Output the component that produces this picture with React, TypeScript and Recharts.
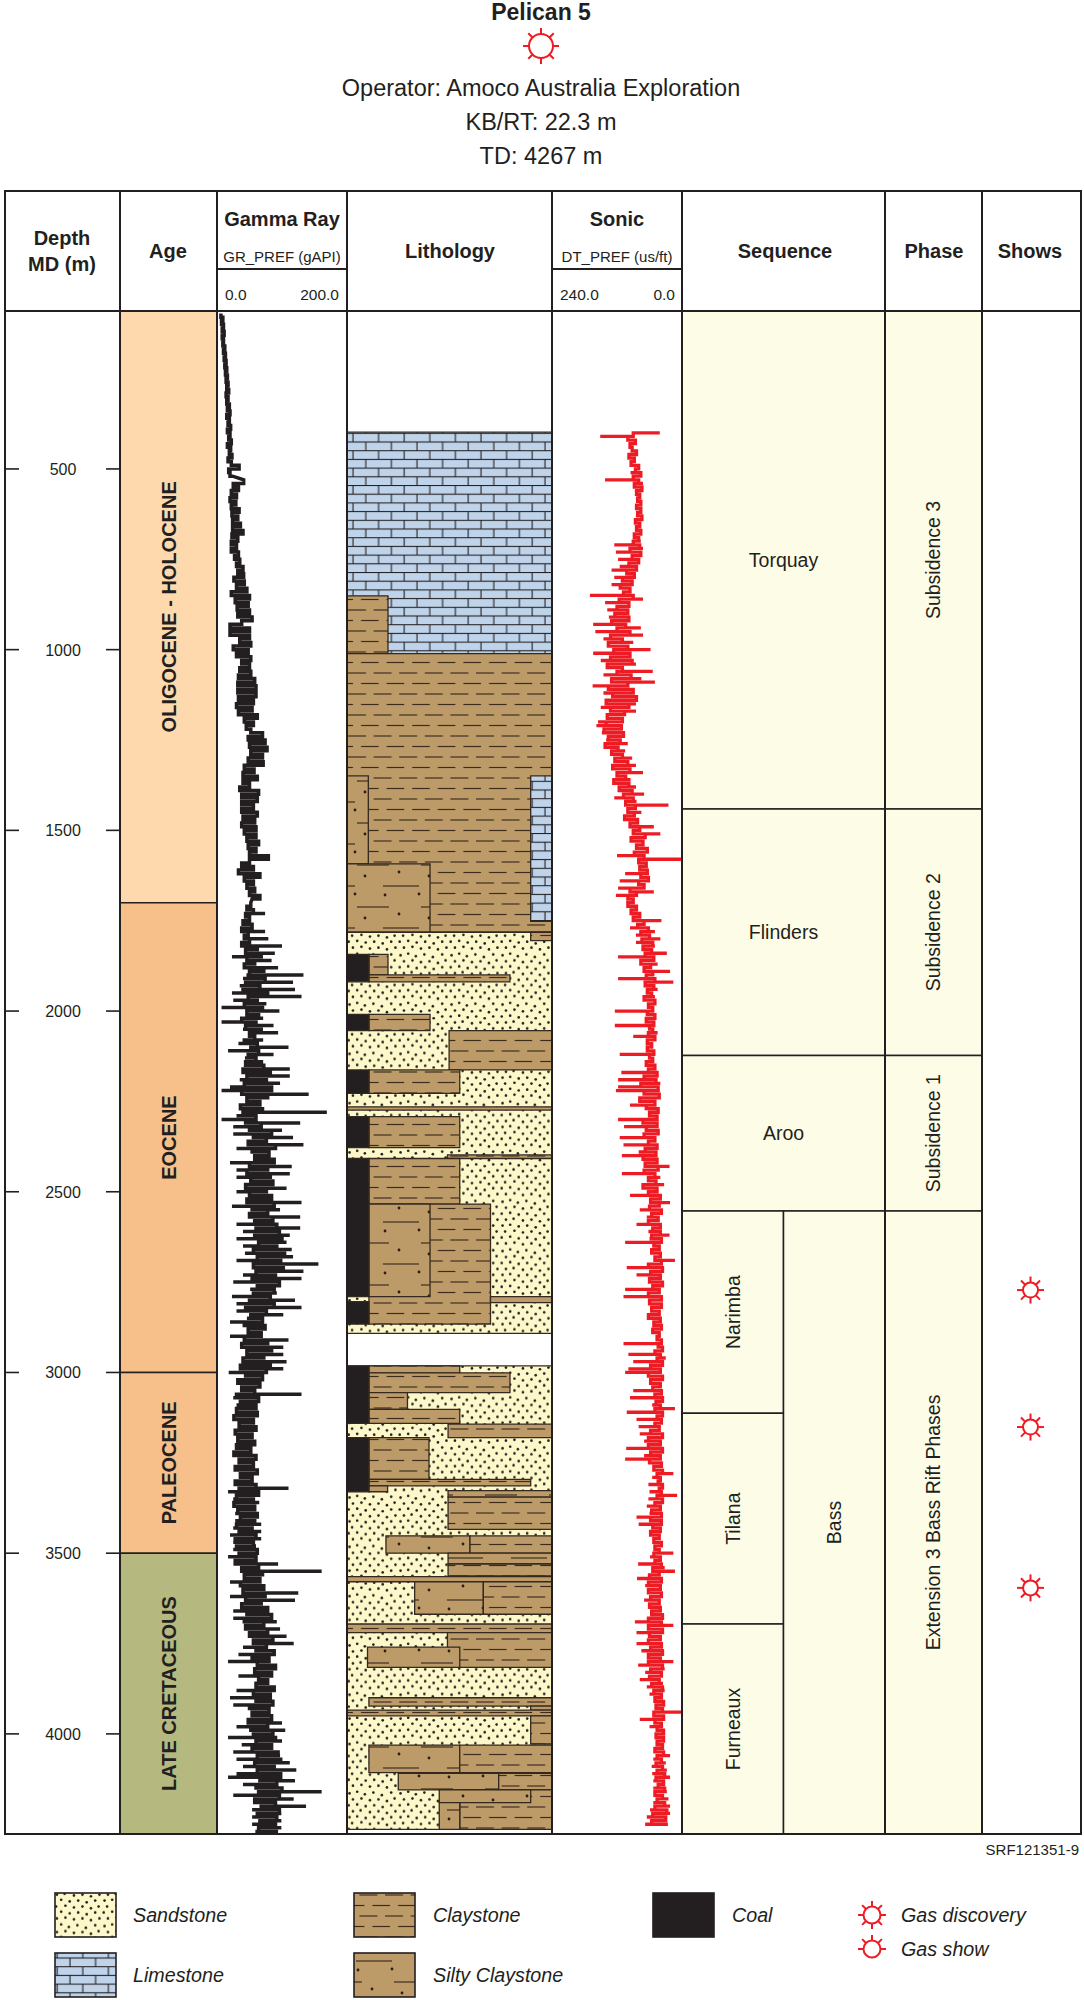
import { ComposedChart, Line, XAxis, YAxis, ReferenceArea, Scatter } from 'recharts'

const FONT = '"Liberation Sans", Arial, sans-serif'
const INK = '#231f20'
const RED = '#ed1c24'
const PALE = '#fdfce6'
const DEPTH_DOMAIN = [63, 4277]
const DEPTH_TICKS = [500, 1000, 1500, 2000, 2500, 3000, 3500, 4000]

// Column edges on the page
const TOP = 311
const BOTTOM = 1834
const TRACK_H = BOTTOM - TOP

// Gamma ray (gAPI)
const GR_TOP_START = 70
const grTop = [
  6, 9, 7, 10, 8, 11, 8, 10, 9, 12, 10, 13, 11, 14, 12, 15, 13, 16, 14, 17, 15, 18, 14,
  17, 15, 19, 16, 20, 15, 19, 17, 21, 16, 20, 18, 22, 16, 21, 19, 23, 17, 22, 34, 18, 20, 24,
]

const GR_MID_START = 530
const grMid = [
  41, 25, 33, 22, 30, 20, 29, 22, 34, 23, 32, 24, 36, 24, 40, 23, 32, 22, 30, 22,
  33, 27, 35, 30, 40, 32, 41, 26, 42, 30, 46, 22, 50, 28, 48, 31, 50, 32, 54, 38,
  20, 50, 20, 50, 35, 52, 25, 48, 30, 52, 38, 50, 35, 52, 33, 58, 32, 60, 32, 60,
  33, 56, 30, 54, 33, 62, 42, 56, 45, 52, 70, 48, 74, 50, 77, 52, 70, 48, 71, 42,
  57, 40, 62, 40, 50, 35, 64, 38, 62, 38, 56, 38, 62, 40, 58, 38, 60, 42, 60, 46,
  64, 48, 60, 50, 79, 50, 38, 56, 33, 66, 42, 56, 46, 58, 50, 66, 54,
]

const GR_LOW_START = 1700
// solid body of the trace below 1700 m, 10 m apart
const grLowBody = [
  52, 46, 56, 44, 50, 40, 54, 38, 48, 42, 50, 38, 62, 44, 68, 46, 58, 42, 72, 50,
  48, 74, 44, 66, 40, 78, 48, 62, 42, 70, 46, 64, 38, 60, 44, 68, 50, 58, 42, 62,
  52, 64, 48, 60, 44, 72, 40, 82, 46, 76, 42, 84, 38, 78, 46, 66, 36, 70, 40, 60,
  44, 68, 50, 84, 56, 76, 48, 90, 54, 80, 58, 88, 50, 78, 46, 82, 52, 86, 44, 76,
  50, 84, 46, 88, 54, 78, 50, 86, 58, 92, 60, 96, 58, 100, 64, 92, 56, 104, 62, 98,
  56, 102, 60, 90, 54, 96, 62, 88, 56, 82, 50, 88, 44, 76, 52, 70, 42, 74, 48, 68,
  42, 78, 38, 84, 46, 72, 40, 82, 36, 76, 44, 70, 32, 66, 38, 58, 30, 64, 36, 60,
  30, 62, 26, 56, 34, 60, 28, 54, 32, 58, 30, 52, 26, 60, 34, 56, 28, 62, 36, 54,
  28, 60, 34, 64, 30, 56, 26, 58, 32, 62, 36, 58, 30, 54, 34, 60, 28, 56, 30, 62,
  34, 60, 28, 64, 38, 70, 42, 66, 36, 72, 40, 74, 44, 68, 38, 78, 46, 84, 42, 72,
  44, 78, 50, 86, 56, 76, 60, 88, 54, 80, 62, 90, 58, 84, 64, 78, 60, 88, 56, 82,
  60, 86, 50, 80, 54, 84, 48, 78, 52, 86, 56, 90, 60, 84, 54, 94, 62, 98, 58, 88,
  62, 98, 66, 92, 60, 100, 64, 96, 58, 90, 68, 96, 62, 92, 66, 90, 64, 94,
]
// spike tips at the same depths
const grLowSpikes = [
  51, 58, 51, 74, 46, 25, 51, 38, 74, 51, 79, 23, 100, 40, 89, 23, 84, 33, 94, 40,
  133, 40, 117, 35, 120, 23, 130, 25, 76, 7, 96, 46, 71, 7, 87, 40, 94, 46, 71, 33,
  110, 17, 87, 43, 71, 48, 112, 40, 112, 35, 97, 20, 7, 141, 45, 60, 25, 76, 169, 30,
  7, 128, 25, 100, 25, 117, 40, 133, 30, 71, 51, 102, 20, 115, 30, 112, 30, 89, 40, 107,
  30, 90, 51, 130, 23, 97, 46, 128, 46, 30, 128, 40, 112, 30, 107, 40, 115, 43, 117, 30,
  156, 60, 133, 40, 130, 25, 76, 51, 92, 23, 120, 30, 130, 30, 102, 46, 20, 61, 40, 76,
  20, 110, 30, 102, 35, 102, 35, 107, 40, 102, 18, 62, 18, 76, 35, 70, 130, 25, 61, 30,
  17, 74, 35, 70, 22, 51, 25, 69, 25, 62, 17, 62, 25, 56, 30, 65, 25, 61, 35, 51,
  25, 51, 110, 17, 65, 25, 65, 25, 60, 28, 64, 28, 68, 25, 68, 20, 68, 25, 60, 25,
  60, 17, 51, 94, 46, 161, 40, 70, 20, 82, 40, 125, 20, 120, 61, 92, 25, 92, 25, 92,
  66, 97, 40, 107, 46, 118, 40, 90, 33, 87, 17, 76, 61, 89, 33, 89, 66, 100, 30, 87,
  20, 76, 25, 76, 40, 97, 40, 100, 30, 105, 45, 17, 100, 38, 76, 25, 97, 30, 112, 40,
  122, 30, 17, 120, 40, 102, 161, 25, 118, 61, 137, 54, 99, 54, 99, 54, 99, 59,
]

const DT_START = 400
const dtBody = [
  90, 100, 86, 96, 92, 84, 98, 88, 94, 80, 86, 76, 90, 80, 88, 74, 84, 78, 82, 76,
  84, 76, 82, 74, 86, 78, 84, 76, 88, 80, 90, 78, 96, 76, 92, 80, 98, 84, 102, 88,
  110, 92, 114, 96, 108, 90, 116, 98, 120, 100, 124, 98, 130, 104, 120, 96, 132, 110, 136, 100,
  126, 96, 132, 92, 138, 110, 120, 94, 130, 100, 136, 90, 128, 84, 140, 98, 132, 106, 138, 110,
  140, 112, 144, 108, 136, 114, 142, 118, 130, 110, 124, 100, 128, 96, 120, 104, 126, 98, 116, 92,
  108, 90, 104, 86, 100, 88, 106, 82, 96, 78, 90, 68, 94, 72, 84, 64, 88, 70, 80, 66,
  78, 64, 76, 62, 80, 70, 96, 84, 100, 90, 100, 84, 94, 78, 90, 70, 82, 62, 76, 60,
  74, 54, 72, 56, 68, 52, 76, 58, 70, 54, 66, 50, 68, 52, 64, 56, 70, 50, 62, 54,
  64, 50, 66, 52, 60, 54, 62, 50, 64, 56, 64, 52, 60, 54, 66, 50, 62, 46, 70, 48,
  76, 44, 70, 42, 78, 50, 66, 44, 60, 46, 72, 46, 66, 44, 70, 50, 62, 46, 68, 48,
  72, 46, 68, 44, 70, 50, 62, 48, 72, 46, 62, 40, 58, 42, 60, 38, 56, 44, 62, 40,
  54, 40, 56, 38, 52, 42, 56, 40, 50, 38, 62, 36, 58, 40, 60, 36, 54, 42, 62, 38,
  60, 38, 56, 42, 62, 40, 52, 38, 54, 42, 46, 38, 44, 36, 50, 40, 46, 36, 58, 40,
  62, 36, 58, 40, 54, 38, 50, 36, 48, 40, 50, 36, 46, 38, 50, 42, 58, 36, 62, 40,
  62, 36, 58, 40, 60, 38, 52, 36, 46, 40, 44, 36, 42, 38, 46, 36, 50, 40, 56, 38,
  58, 38, 54, 40, 58, 42, 52, 38, 50, 42, 52, 40, 50, 38, 54, 42, 60, 38, 62, 40,
  62, 38, 58, 42, 60, 40, 56, 36, 62, 38, 62, 36, 60, 40, 62, 38, 58, 36, 62, 40,
  62, 36, 58, 38, 60, 42, 56, 36, 52, 38, 50, 34, 48, 36, 52, 34, 50, 38, 46, 34,
  48, 34, 46, 36, 50, 34, 46, 38, 48, 36, 46, 32, 48, 34, 44, 32, 50, 36, 46, 32,
  50, 28, 54, 30, 56, 26,
]
const dtSpikes = [
  41, 151, 100, 95, 92, 85, 96, 78, 90, 88, 78, 95, 85,
  142, 72, 90, 80, 88, 76, 84, 72, 82, 70, 80, 72, 84, 75, 88, 76, 90, 76, 125, 72,
  122, 74, 118, 90, 115, 130, 100, 125, 88, 130, 95, 110, 170, 72, 142, 95, 138, 100, 135, 102,
  164, 76, 160, 72, 145, 90, 127, 58, 164, 95, 150, 85, 130, 54, 145, 75, 50, 165, 78, 145,
  85, 145, 85, 150, 85, 148, 102, 155, 158, 125, 148, 105, 140, 100, 130, 105, 125, 92, 125, 85,
  115, 72, 122, 95, 125, 85, 115, 70, 125, 84, 25, 108, 75, 108, 70, 95, 52, 90, 40, 100,
  60, 88, 55, 72, 120, 0, 70, 75, 65, 105, 62, 115, 60, 118, 52, 122, 90,
  105, 80, 100, 85, 100, 38, 90, 96, 50, 85, 40, 85, 50, 70, 28, 118, 70, 45, 75, 22,
  65, 118, 16, 70, 45, 65, 50, 62, 48, 60, 124, 40, 60, 50, 124, 60, 45, 90, 50, 65,
  52, 60, 115, 45, 65, 40, 70, 112, 45, 118, 40, 118, 122, 40, 65, 50, 96, 45, 65, 50,
  118, 47, 107, 41, 50, 115, 47, 108, 44, 80, 111, 47, 65, 23, 65, 111, 40, 62, 33, 65,
  50, 96, 45, 22, 70, 78, 40, 65, 50, 84, 47, 62, 23, 60, 105, 40, 60, 35, 58, 13,
  60, 102, 38, 84, 38, 60, 40, 105, 40, 108, 47, 60, 52, 38, 50, 40, 47, 38, 46, 36,
  45, 38, 108, 40, 35, 99, 30, 90, 38, 99, 105, 38, 60, 38, 55, 90, 40, 96, 40, 55,
  13, 102, 38, 84, 38, 80, 40, 78, 38, 70, 38, 103, 38, 70, 105, 35, 60, 45, 16, 55,
  40, 62, 38, 60, 9, 62, 42, 65, 42, 60, 84, 32, 80, 40, 59, 38, 58, 40, 59, 40,
  16, 59, 40, 81, 32, 13, 70, 83, 35, 68, 38, 60, 35, 70, 40, 55, 40, 50, 38, 87,
  16, 60, 84, 35, 70, 84, 35, 75, 40, 65, 16, 81, 32, 68, 38, 78, 35, 65, 32, 60,
  35, 53, 32, 50, 0, 50, 78, 38, 60, 35, 53, 32, 55, 25, 59, 28, 22, 53, 30, 56,
  28, 55, 22, 53, 32, 53, 28, 47, 25, 53, 22, 59, 22, 65, 28, 68,
]

// Intervals: [top depth, base depth, label]
const ageNames = ['OLIGOCENE - HOLOCENE', 'EOCENE', 'PALEOCENE', 'LATE CRETACEOUS']
const ageTops = [63, 1700, 3000, 3500]
const ageBases = [1700, 3000, 3500, 4277]
const ageColors = ['#fdd9ad', '#f7bf8a', '#f7bf8a', '#b5b97f']

const seqNames = ['Torquay', 'Flinders', 'Aroo']
const seqTops = [63, 1441, 2123]
const seqBases = [1441, 2123, 2553]
const subSeqNames = ['Narimba', 'Tilana', 'Furneaux']
const subSeqTops = [2553, 3113, 3696]
const subSeqBases = [3113, 3696, 4277]
const phaseNames = ['Subsidence 3', 'Subsidence 2', 'Subsidence 1', 'Extension 3 Bass Rift Phases']
const phaseTops = [63, 1441, 2123, 2553]
const phaseBases = [1441, 2123, 2553, 4277]

const showDepths = [2772, 3151, 3596]

// Lithology: [rock, left %, right %, top depth, base depth], later rows paint over earlier ones
type Rock = 'sand' | 'clay' | 'silty' | 'lime' | 'coal'
const lithology: [Rock, number, number, number, number][] = [
  ['lime', 0, 100, 398, 1011],
  ['clay', 0, 20, 851, 1011],
  ['clay', 0, 100, 1011, 1782],
  ['lime', 89.6, 100, 1349, 1752],
  ['silty', 0, 10.4, 1349, 1593],
  ['silty', 0, 40.5, 1593, 1782],
  ['sand', 0, 100, 1782, 2892],
  ['clay', 89.6, 100, 1782, 1805],
  ['clay', 10.7, 20, 1843, 1900],
  ['clay', 10.7, 79.5, 1900, 1919],
  ['coal', 0, 10.7, 1843, 1919],
  ['clay', 10.7, 40.5, 2009, 2054],
  ['coal', 0, 10.7, 2009, 2054],
  ['clay', 49.8, 100, 2054, 2163],
  ['clay', 10.7, 55, 2163, 2228],
  ['coal', 0, 10.7, 2163, 2228],
  ['clay', 0, 100, 2265, 2274],
  ['clay', 10.7, 55, 2292, 2378],
  ['coal', 0, 10.7, 2292, 2378],
  ['clay', 49, 100, 2398, 2408],
  ['clay', 10.7, 55, 2408, 2534],
  ['clay', 10.7, 70, 2534, 2866],
  ['silty', 10.7, 40.5, 2534, 2790],
  ['clay', 70, 100, 2790, 2807],
  ['coal', 0, 10.7, 2408, 2790],
  ['coal', 0, 10.7, 2804, 2866],
  ['sand', 0, 100, 2982, 4264],
  ['clay', 10.7, 55, 2982, 3001],
  ['clay', 10.7, 79.5, 3001, 3056],
  ['clay', 10.7, 29.5, 3056, 3102],
  ['clay', 10.7, 55, 3102, 3141],
  ['coal', 0, 10.7, 2982, 3141],
  ['clay', 49.3, 100, 3143, 3180],
  ['clay', 10.7, 40, 3180, 3296],
  ['clay', 10.7, 89.6, 3296, 3314],
  ['clay', 10.7, 19.8, 3314, 3330],
  ['coal', 0, 10.7, 3180, 3330],
  ['silty', 49.3, 100, 3327, 3345],
  ['clay', 49.3, 100, 3345, 3434],
  ['silty', 19, 60, 3452, 3500],
  ['clay', 60, 100, 3452, 3500],
  ['silty', 49.3, 100, 3500, 3530],
  ['clay', 49.3, 100, 3530, 3563],
  ['clay', 0, 100, 3565, 3579],
  ['silty', 33, 66.5, 3579, 3669],
  ['clay', 66.5, 100, 3579, 3669],
  ['clay', 0, 100, 3696, 3720],
  ['clay', 49, 100, 3720, 3816],
  ['silty', 10, 55, 3760, 3816],
  ['clay', 10.7, 100, 3900, 3923],
  ['clay', 89.6, 100, 3923, 3934],
  ['clay', 0, 100, 3934, 3950],
  ['clay', 89.6, 100, 3950, 4028],
  ['silty', 10.7, 55, 4031, 4107],
  ['clay', 55, 100, 4031, 4107],
  ['silty', 25, 74, 4109, 4155],
  ['clay', 74, 100, 4109, 4155],
  ['clay', 55, 100, 4155, 4264],
  ['silty', 45, 89.6, 4155, 4190],
  ['silty', 45, 55, 4190, 4264],
]

const rockFill: Record<Rock, string> = {
  sand: 'url(#sandFill)',
  clay: 'url(#clayFill)',
  silty: 'url(#siltyFill)',
  lime: 'url(#limeFill)',
  coal: INK,
}

// Flat log steps; a tip further than `margin` from the body becomes a one-row spike
function traceRows(body: number[], start: number, step: number, spikes: number[], margin: number) {
  return body.flatMap((v, i) => {
    const depth = start + i * step
    const rows = [{ depth, v: body[i - 1] ?? v }, { depth, v }]
    const tip = spikes[i]
    if (tip !== undefined && Math.abs(tip - v) > margin) rows.push({ depth, v: tip }, { depth, v })
    return rows
  })
}

const grRows = [
  ...traceRows(grTop, GR_TOP_START, 10, [], 0),
  ...traceRows(grMid, GR_MID_START, 10, [], 0),
  ...traceRows(grLowBody, GR_LOW_START, 10, grLowSpikes, 15),
]
const dtRows = traceRows(dtBody, DT_START, 10, dtSpikes, 12)

// sand speckle, one tile
const SAND_DOTS = [
  [3, 4], [12, 2], [21, 5], [31, 3], [41, 6], [52, 3], [7, 11], [17, 10], [27, 12], [37, 11], [47, 13], [56, 10],
  [2, 18], [12, 17], [22, 19], [32, 18], [42, 20], [52, 18], [7, 25], [16, 24], [27, 26], [37, 25], [47, 27], [57, 25],
  [3, 32], [12, 31], [22, 33], [32, 32], [42, 34], [52, 32], [6, 39], [17, 38], [27, 40], [37, 39], [47, 41], [56, 39],
  [2, 46], [12, 45], [22, 47], [32, 46], [42, 48], [52, 46], [7, 53], [17, 52], [27, 54], [37, 53], [47, 55], [57, 53],
]

function Patterns() {
  return (
    <svg width={0} height={0} style={{ position: 'absolute' }}>
      <defs>
        <pattern id="sandFill" patternUnits="userSpaceOnUse" patternTransform="scale(0.85)" width={60} height={58}>
          <rect width={60} height={58} fill="#fdf8c9" />
          {SAND_DOTS.map(([x, y]) => <circle key={`${x}-${y}`} cx={x} cy={y} r={1.55} fill={INK} />)}
        </pattern>
        <pattern id="clayFill" patternUnits="userSpaceOnUse" width={25.6} height={21}>
          <rect width={25.6} height={21} fill="#bc9b69" />
          <line x1={1} x2={19} y1={5} y2={5} stroke="#3d2c1e" strokeWidth={1.2} />
          <line x1={14} x2={25.6} y1={15.5} y2={15.5} stroke="#3d2c1e" strokeWidth={1.2} />
          <line x1={0} x2={6} y1={15.5} y2={15.5} stroke="#3d2c1e" strokeWidth={1.2} />
        </pattern>
        <pattern id="siltyFill" patternUnits="userSpaceOnUse" width={64} height={42}>
          <rect width={64} height={42} fill="#bc9b69" />
          <line x1={10} x2={42} y1={8} y2={8} stroke="#3d2c1e" strokeWidth={1.2} />
          <line x1={36} x2={64} y1={29} y2={29} stroke="#3d2c1e" strokeWidth={1.2} />
          <line x1={0} x2={8} y1={29} y2={29} stroke="#3d2c1e" strokeWidth={1.2} />
          <circle cx={18} cy={19} r={1.4} fill="#2a1d12" />
          <circle cx={52} cy={15} r={1.4} fill="#2a1d12" />
          <circle cx={8} cy={37} r={1.4} fill="#2a1d12" />
          <circle cx={38} cy={38} r={1.4} fill="#2a1d12" />
        </pattern>
        <pattern id="limeFill" patternUnits="userSpaceOnUse" width={25.6} height={17.4}>
          <rect width={25.6} height={17.4} fill="#bfd4ea" />
          <line x1={0} x2={25.6} y1={0.5} y2={0.5} stroke={INK} strokeWidth={1.1} />
          <line x1={0} x2={25.6} y1={9.2} y2={9.2} stroke={INK} strokeWidth={1.1} />
          <line x1={6} x2={6} y1={0.5} y2={9.2} stroke={INK} strokeWidth={1.1} />
          <line x1={18.8} x2={18.8} y1={9.2} y2={17.4} stroke={INK} strokeWidth={1.1} />
        </pattern>
      </defs>
    </svg>
  )
}

// Hidden axes on every track carry the shared depth scale
function Track({
  left, width, xDomain, xKey, rows, children,
}: {
  left: number
  width: number
  xDomain: number[]
  xKey?: string
  rows?: object[]
  children: React.ReactNode
}) {
  return (
    <div style={{ position: 'absolute', left, top: TOP, width, height: TRACK_H }}>
      <ComposedChart
        layout="vertical"
        width={width}
        height={TRACK_H}
        data={rows ?? [{ depth: 63 }]}
        margin={{ top: 0, right: 0, bottom: 0, left: 0 }}
      >
        <XAxis type="number" dataKey={xKey} domain={xDomain} hide allowDataOverflow />
        <YAxis type="number" dataKey="depth" domain={DEPTH_DOMAIN} hide allowDataOverflow />
        {children}
      </ComposedChart>
    </div>
  )
}

function rotatedLabel(value: string, bold = false) {
  return {
    value,
    position: 'center' as const,
    angle: -90,
    fill: INK,
    fontFamily: FONT,
    fontSize: bold ? 20 : 19.5,
    fontWeight: bold ? 700 : 400,
  }
}

function plainLabel(value: string) {
  return { value, position: 'center' as const, fill: INK, fontFamily: FONT, fontSize: 19.5 }
}

function Glyph({ cx, cy, r, ray, angles }: { cx: number; cy: number; r: number; ray: number; angles: number[] }) {
  return (
    <g stroke={RED} strokeWidth={2} fill="none">
      <circle cx={cx} cy={cy} r={r} />
      {angles.map((a) => {
        const c = Math.cos((a * Math.PI) / 180)
        const s = Math.sin((a * Math.PI) / 180)
        return (
          <line key={a} x1={cx + r * c} y1={cy + r * s} x2={cx + (r + ray) * c} y2={cy + (r + ray) * s} />
        )
      })}
    </g>
  )
}

const ALL_RAYS = [0, 45, 90, 135, 180, 225, 270, 315]
const UPPER_RAYS = [0, 180, 225, 270, 315]

function DepthTick({ y, payload }: { y?: number; payload?: { value: number } }) {
  return (
    <g>
      <line x1={0} x2={14} y1={y} y2={y} stroke={INK} strokeWidth={1.6} />
      <line x1={101} x2={115} y1={y} y2={y} stroke={INK} strokeWidth={1.6} />
      <text x={58} y={y} dy={6} textAnchor="middle" fontFamily={FONT} fontSize={16} fill={INK}>
        {payload?.value}
      </text>
    </g>
  )
}

function Head({ x, y, size = 20, bold = true, anchor = 'center', children }: {
  x: number
  y: number
  size?: number
  bold?: boolean
  anchor?: 'center' | 'left' | 'right'
  children: React.ReactNode
}) {
  const shift = anchor === 'center' ? '-50%' : anchor === 'right' ? '-100%' : '0'
  return (
    <div
      style={{
        position: 'absolute', left: x, top: y, transform: `translate(${shift}, -50%)`,
        fontFamily: FONT, fontSize: size, fontWeight: bold ? 700 : 400, color: INK,
        whiteSpace: 'nowrap', lineHeight: 1,
      }}
    >
      {children}
    </div>
  )
}

function VLine({ x, top = 191, bottom = BOTTOM }: { x: number; top?: number; bottom?: number }) {
  return <div style={{ position: 'absolute', left: x - 1, top, width: 2, height: bottom - top, background: INK }} />
}

function HLine({ y, left, right, weight = 2 }: { y: number; left: number; right: number; weight?: number }) {
  return <div style={{ position: 'absolute', left, top: y - weight / 2, width: right - left, height: weight, background: INK }} />
}

function Swatch({ x, y, fill }: { x: number; y: number; fill: string }) {
  return <rect x={x} y={y} width={61} height={44} fill={fill} stroke={INK} strokeWidth={1.6} />
}

export default function App() {
  return (
    <div style={{ position: 'absolute', left: 0, top: 0, width: 1084, height: 2000, background: '#fff', overflow: 'hidden' }}>
      <Patterns />

      <Head x={541} y={12} size={23}>Pelican 5</Head>
      <svg style={{ position: 'absolute', left: 516, top: 21 }} width={50} height={50}>
        <Glyph cx={25} cy={25} r={12} ray={6} angles={ALL_RAYS} />
      </svg>
      <Head x={541} y={89} size={23.5} bold={false}>Operator: Amoco Australia Exploration</Head>
      <Head x={541} y={123} size={23.5} bold={false}>KB/RT: 22.3 m</Head>
      <Head x={541} y={157} size={23.5} bold={false}>TD: 4267 m</Head>

      {/* depth column */}
      <div style={{ position: 'absolute', left: 5, top: TOP, width: 115, height: TRACK_H }}>
        <ComposedChart
          layout="vertical"
          width={115}
          height={TRACK_H}
          data={DEPTH_TICKS.map((depth) => ({ depth }))}
          margin={{ top: 0, right: 0, bottom: 0, left: 0 }}
        >
          <XAxis type="number" domain={[0, 1]} hide />
          <YAxis
            type="number"
            dataKey="depth"
            domain={DEPTH_DOMAIN}
            ticks={DEPTH_TICKS}
            orientation="left"
            width={115}
            axisLine={false}
            tickLine={false}
            tick={(props: object) => <DepthTick {...props} />}
            allowDataOverflow
          />
        </ComposedChart>
      </div>

      {/* age */}
      <Track left={120} width={97} xDomain={[0, 1]}>
        {ageNames.map((name, i) => (
          <ReferenceArea
            key={name}
            x1={0}
            x2={1}
            y1={ageTops[i]}
            y2={ageBases[i]}
            fill={ageColors[i]}
            fillOpacity={1}
            stroke={INK}
            strokeWidth={1.5}
            label={rotatedLabel(name, true)}
          />
        ))}
      </Track>

      {/* gamma ray */}
      <Track left={217} width={130} xDomain={[0, 200]} rows={grRows}>
        <Line dataKey="v" stroke={INK} strokeWidth={3.5} dot={false} isAnimationActive={false} />
      </Track>

      {/* lithology */}
      <Track left={347} width={205} xDomain={[0, 100]}>
        {lithology.map(([rock, x1, x2, y1, y2], i) => (
          <ReferenceArea
            key={i}
            x1={x1}
            x2={x2}
            y1={y1}
            y2={y2}
            fill={rockFill[rock]}
            fillOpacity={1}
            stroke="#33291f"
            strokeWidth={1.3}
          />
        ))}
      </Track>

      {/* sonic */}
      <Track left={552} width={130} xDomain={[240, 0]} rows={dtRows}>
        <Line dataKey="v" stroke={RED} strokeWidth={3.3} dot={false} isAnimationActive={false} />
      </Track>

      {/* sequence */}
      <Track left={682} width={203} xDomain={[0, 2]}>
        {seqNames.map((name, i) => (
          <ReferenceArea key={name} x1={0} x2={2} y1={seqTops[i]} y2={seqBases[i]} fill={PALE} fillOpacity={1}
            stroke={INK} strokeWidth={1.5} label={plainLabel(name)} />
        ))}
        {subSeqNames.map((name, i) => (
          <ReferenceArea key={name} x1={0} x2={1} y1={subSeqTops[i]} y2={subSeqBases[i]} fill={PALE} fillOpacity={1}
            stroke={INK} strokeWidth={1.5} label={rotatedLabel(name)} />
        ))}
        <ReferenceArea x1={1} x2={2} y1={2553} y2={4277} fill={PALE} fillOpacity={1} stroke={INK} strokeWidth={1.5}
          label={rotatedLabel('Bass')} />
      </Track>

      {/* phase */}
      <Track left={885} width={97} xDomain={[0, 1]}>
        {phaseNames.map((name, i) => (
          <ReferenceArea key={name} x1={0} x2={1} y1={phaseTops[i]} y2={phaseBases[i]} fill={PALE} fillOpacity={1}
            stroke={INK} strokeWidth={1.5} label={rotatedLabel(name)} />
        ))}
      </Track>

      {/* shows */}
      <Track left={982} width={99} xDomain={[0, 1]} xKey="col" rows={showDepths.map((depth) => ({ depth, col: 0.49 }))}>
        <Scatter
          isAnimationActive={false}
          shape={(p: { cx?: number; cy?: number }) => (
            <Glyph cx={p.cx ?? 0} cy={p.cy ?? 0} r={7.5} ray={6} angles={ALL_RAYS} />
          )}
        />
      </Track>

      {/* frame */}
      <HLine y={191} left={4} right={1082} />
      <HLine y={311} left={4} right={1082} />
      <HLine y={BOTTOM} left={4} right={1082} />
      <HLine y={269} left={217} right={347} />
      <HLine y={269} left={552} right={682} />
      {[5, 120, 217, 347, 552, 682, 885, 982, 1081].map((x) => <VLine key={x} x={x} />)}

      <Head x={62} y={238}>Depth</Head>
      <Head x={62} y={264}>MD (m)</Head>
      <Head x={168} y={251}>Age</Head>
      <Head x={282} y={219}>Gamma Ray</Head>
      <Head x={282} y={256} size={15} bold={false}>GR_PREF (gAPI)</Head>
      <Head x={225} y={295} size={15.5} bold={false} anchor="left">0.0</Head>
      <Head x={339} y={295} size={15.5} bold={false} anchor="right">200.0</Head>
      <Head x={450} y={251}>Lithology</Head>
      <Head x={617} y={219}>Sonic</Head>
      <Head x={617} y={256} size={15} bold={false}>DT_PREF (us/ft)</Head>
      <Head x={560} y={295} size={15.5} bold={false} anchor="left">240.0</Head>
      <Head x={675} y={295} size={15.5} bold={false} anchor="right">0.0</Head>
      <Head x={785} y={251}>Sequence</Head>
      <Head x={934} y={251}>Phase</Head>
      <Head x={1030} y={251}>Shows</Head>

      <Head x={1079} y={1849} size={15} bold={false} anchor="right">SRF121351-9</Head>

      {/* legend */}
      <svg style={{ position: 'absolute', left: 0, top: 1880 }} width={1084} height={120}>
        <g transform="translate(0,-1880)">
          <Swatch x={55} y={1893} fill="url(#sandFill)" />
          <Swatch x={55} y={1953} fill="url(#limeFill)" />
          <Swatch x={354} y={1893} fill="url(#clayFill)" />
          <Swatch x={354} y={1953} fill="url(#siltyFill)" />
          <Swatch x={653} y={1893} fill={INK} />
          <Glyph cx={872} cy={1915} r={8.5} ray={5.5} angles={ALL_RAYS} />
          <Glyph cx={872} cy={1949} r={8.5} ray={5.5} angles={UPPER_RAYS} />
        </g>
      </svg>
      {[
        { x: 133, y: 1916, text: 'Sandstone' },
        { x: 133, y: 1976, text: 'Limestone' },
        { x: 433, y: 1916, text: 'Claystone' },
        { x: 433, y: 1976, text: 'Silty Claystone' },
        { x: 732, y: 1916, text: 'Coal' },
        { x: 901, y: 1916, text: 'Gas discovery' },
        { x: 901, y: 1950, text: 'Gas show' },
      ].map((l) => (
        <Head key={l.text} x={l.x} y={l.y} size={19.7} bold={false} anchor="left">
          <i>{l.text}</i>
        </Head>
      ))}
    </div>
  )
}
